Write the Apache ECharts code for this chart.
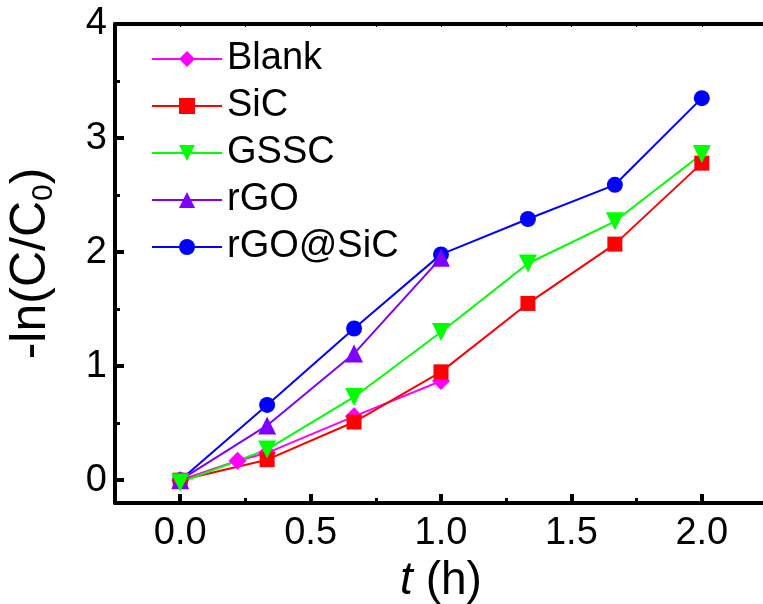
<!DOCTYPE html>
<html lang="en">
<head>
    <meta charset="UTF-8">
    <title>-ln(C/C0) vs t</title>
    <style>
        html, body { margin: 0; padding: 0; background-color: #fff; }
    </style>
</head>
<body>
<div id="chart" style="width: 763px;height:604px;"></div>
<script src="https://cdn.jsdelivr.net/npm/echarts@6/dist/echarts.min.js"></script>
<script>
    // time points (h)
    var tMain = [0, 1 / 3, 2 / 3, 1, 4 / 3, 5 / 3, 2];
    var tBlank = [0, 0.22, 1 / 3, 2 / 3, 1];
    var tRGO = [0, 1 / 3, 2 / 3, 1];

    // -ln(C/C0)
    var blank = [0, 0.17, 0.24, 0.56, 0.87];
    var sic = [0, 0.18, 0.51, 0.95, 1.55, 2.07, 2.78];
    var gssc = [-0.02, 0.27, 0.73, 1.30, 1.90, 2.27, 2.86];
    var rgo = [0, 0.48, 1.11, 1.95];
    var rgoSic = [0, 0.66, 1.33, 1.98, 2.29, 2.59, 3.35];

    var xMajor = [0, 0.5, 1, 1.5, 2];
    var xMinor = [-0.25, 0.25, 0.75, 1.25, 1.75, 2.25];
    var yMajor = [0, 1, 2, 3, 4];
    var yMinor = [0.5, 1.5, 2.5, 3.5];

    var font = 'Liberation Sans, Arial, sans-serif';

    function pairs(xs, ys) {
        return xs.map(function (x, i) { return [x, ys[i]]; });
    }

    function line(name, color, symbol, size, xs, ys) {
        return {
            name: name,
            type: 'line',
            symbol: symbol,
            symbolSize: size,
            data: pairs(xs, ys),
            lineStyle: { color: color, width: 2 },
            itemStyle: { color: color },
            animation: false
        };
    }

    var myChart = echarts.init(document.getElementById('chart'));

    var axisLine = { show: true, onZero: false, lineStyle: { color: '#000', width: 4 } };
    var noLine = { show: false, onZero: false };

    var option = {
        animation: false,
        grid: { left: 115, top: 24, right: -4, bottom: 101, containLabel: false, outerBoundsMode: 'none' },
        legend: {
            data: ['Blank', 'SiC', 'GSSC', 'rGO', 'rGO@SiC'],
            orient: 'vertical',
            left: 146,
            top: 35,
            itemWidth: 70,
            itemHeight: 20,
            itemGap: 9,
            textStyle: { fontFamily: font, fontSize: 38, color: '#000', lineHeight: 38 }
        },
        xAxis: [{
            type: 'value',
            min: -0.25,
            max: 2.25,
            position: 'bottom',
            name: '{i|t} (h)',
            nameLocation: 'middle',
            nameGap: 50,
            nameTextStyle: {
                fontFamily: font, fontSize: 46, color: '#000',
                rich: { i: { fontFamily: font, fontSize: 46, fontStyle: 'italic', color: '#000' } }
            },
            axisLine: axisLine,
            axisTick: { show: true, inside: true, length: 9, lineStyle: { width: 4, color: '#000' }, customValues: xMajor },
            axisLabel: {
                fontFamily: font, fontSize: 38, color: '#000', margin: 12,
                customValues: xMajor,
                formatter: function (v) { return v.toFixed(1); }
            },
            splitLine: { show: false }
        }, {
            // minor ticks on the bottom axis
            type: 'value',
            min: -0.25,
            max: 2.25,
            position: 'bottom',
            axisLine: noLine,
            axisTick: { show: true, inside: true, length: 5, lineStyle: { width: 3, color: '#000' }, customValues: xMinor },
            axisLabel: { show: false },
            splitLine: { show: false }
        }, {
            type: 'value',
            min: -0.25,
            max: 2.25,
            position: 'top',
            axisLine: axisLine,
            axisTick: { show: true, inside: true, length: 3, lineStyle: { width: 1, color: '#000' }, customValues: xMajor.concat(xMinor) },
            axisLabel: { show: false },
            splitLine: { show: false }
        }],
        yAxis: [{
            type: 'value',
            min: -0.2,
            max: 4,
            position: 'left',
            name: '-ln(C/C{s|0})',
            nameLocation: 'middle',
            nameGap: 56,
            nameTextStyle: {
                fontFamily: font, fontSize: 50, color: '#000',
                rich: { s: { fontFamily: font, fontSize: 30, color: '#000', padding: [26, 0, 0, 0] } }
            },
            axisLine: axisLine,
            axisTick: { show: true, inside: true, length: 9, lineStyle: { width: 4, color: '#000' }, customValues: yMajor },
            axisLabel: {
                fontFamily: font, fontSize: 38, color: '#000', margin: 8,
                customValues: yMajor
            },
            splitLine: { show: false }
        }, {
            type: 'value',
            min: -0.2,
            max: 4,
            position: 'left',
            axisLine: noLine,
            axisTick: { show: true, inside: true, length: 5, lineStyle: { width: 3, color: '#000' }, customValues: yMinor },
            axisLabel: { show: false },
            splitLine: { show: false }
        }],
        series: [
            line('rGO@SiC', '#0000FF', 'circle', 16, tMain, rgoSic),
            line('Blank', '#FF00FF', 'diamond', 18, tBlank, blank),
            line('SiC', '#FF0000', 'rect', 15, tMain, sic),
            line('rGO', '#8000FF', 'triangle', 18, tRGO, rgo),
            line('GSSC', '#00FF00', 'path://M0,0L10,0L5,9Z', 18, tMain, gssc)
        ]
    };
    myChart.setOption(option);
</script>
</body>
</html>
